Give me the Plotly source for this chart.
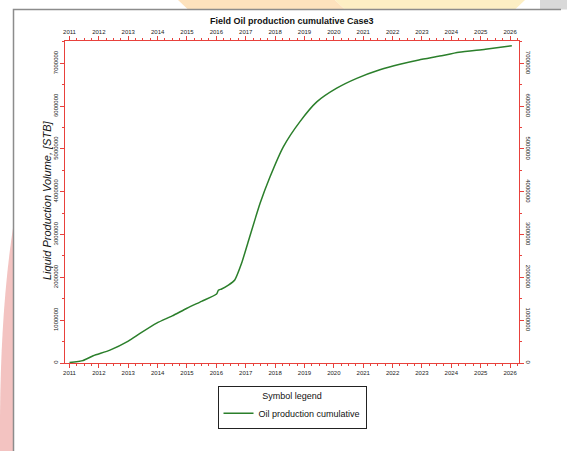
import plotly.graph_objects as go

# ---------------- data ----------------
dates = ["2011-01-01", "2011-06-20", "2011-10-23", "2012-05-18", "2013-01-01",
         "2013-05-27", "2013-12-20", "2014-07-01", "2015-01-01", "2015-07-01",
         "2016-01-04", "2016-01-26", "2016-03-07", "2016-05-30", "2016-08-17",
         "2016-11-10", "2017-02-06", "2017-06-28", "2017-10-30", "2018-04-13",
         "2018-11-06", "2019-06-03", "2020-02-06", "2020-10-12", "2021-07-27",
         "2022-04-02", "2022-11-24", "2023-08-08", "2024-04-05", "2025-02-28",
         "2026-01-23"]
oil_cumulative = [10000, 60000, 170000, 300000, 510000,
                  690000, 930000, 1100000, 1280000, 1440000,
                  1610000, 1700000, 1730000, 1820000, 1940000,
                  2330000, 2870000, 3730000, 4350000, 5050000,
                  5640000, 6100000, 6420000, 6650000, 6850000,
                  6980000, 7080000, 7170000, 7260000, 7330000,
                  7410000]
y_tick_values = [0, 1000000, 2000000, 3000000, 4000000, 5000000, 6000000, 7000000]
x_range = ["2010-11-06", "2026-04-22"]
y_range = [0, 7523000]

# ---------------- layout helpers ----------------
W, H = 567, 451
ML, MR, MT, MB = 65, 48, 41, 88
PW, PH = W - ML - MR, H - MT - MB


def fx(p):
    return (p - ML) / PW


def fy(p):
    return (H - MB - p) / PH


RED = "#e8413c"
GREEN = "#2b7f2b"
FONT = "Liberation Sans, Arial, sans-serif"
tickfont = dict(family=FONT, size=6, color="#222222")

fig = go.Figure()
fig.add_trace(go.Scatter(
    x=dates, y=oil_cumulative, mode="lines", name="Oil production cumulative",
    line=dict(color=GREEN, width=1.5, shape="spline", smoothing=0.6),
    xaxis="x", yaxis="y", showlegend=True))
# companion (invisible) trace to activate the mirrored top/right axes
fig.add_trace(go.Scatter(
    x=dates, y=oil_cumulative, mode="lines", line=dict(color="rgba(0,0,0,0)", width=0),
    xaxis="x2", yaxis="y2", showlegend=False, hoverinfo="skip"))

xcommon = dict(type="date", range=x_range, dtick="M12", tick0="2011-01-01",
               tickformat="%Y", ticks="outside", ticklen=4, tickcolor=RED,
               showline=True, linecolor=RED, linewidth=1, showgrid=False,
               zeroline=False, tickfont=tickfont,
               minor=dict(dtick="M3", ticks="outside", ticklen=2, tickcolor=RED))
ycommon = dict(range=y_range, tickvals=y_tick_values, tickformat="d",
               ticks="outside", ticklen=4, tickcolor=RED, showline=True,
               linecolor=RED, linewidth=1, showgrid=False, zeroline=False,
               tickfont=tickfont,
               minor=dict(dtick=500000, ticks="outside", ticklen=2, tickcolor=RED))

shapes = [
    # top decorative band
    dict(type="path", xref="paper", yref="paper", layer="below",
         path=f"M {fx(178)},{fy(0)} L {fx(335)},{fy(0)} L {fx(345)},{fy(9.5)} L {fx(188)},{fy(9.5)} Z",
         fillcolor="#fde2bd", line=dict(width=0)),
    dict(type="path", xref="paper", yref="paper", layer="below",
         path=f"M {fx(335)},{fy(0)} L {fx(525)},{fy(0)} L {fx(515)},{fy(9.5)} L {fx(345)},{fy(9.5)} Z",
         fillcolor="#fdefc4", line=dict(width=0)),
    dict(type="rect", xref="paper", yref="paper", layer="below",
         x0=fx(540), x1=fx(567), y0=fy(0), y1=fy(9.5),
         fillcolor="#d9d9d9", line=dict(width=0)),
    # left pink arc
    dict(type="path", xref="paper", yref="paper", layer="below",
         path=f"M {fx(13)},{fy(228)} Q {fx(-1)},{fy(320)} {fx(0)},{fy(451)} L {fx(13)},{fy(451)} Z",
         fillcolor="#f3c3c1", line=dict(width=0)),
    # window frame
    dict(type="path", xref="paper", yref="paper", layer="below",
         path=f"M {fx(13.5)},{fy(452)} L {fx(13.5)},{fy(9.5)} L {fx(561)},{fy(9.5)}",
         line=dict(color="#8c8c8c", width=1.5)),
]

annotations = [
    dict(text="<i>Liquid Production Volume, [STB]</i>", xref="paper", yref="paper",
         x=fx(47), y=fy(200), textangle=-90, showarrow=False,
         font=dict(family=FONT, size=11, color="#111111"),
         xanchor="center", yanchor="middle"),
    dict(text="<b>Field Oil production cumulative Case3</b>", xref="paper", yref="paper",
         x=fx(292), y=fy(21), showarrow=False,
         font=dict(family=FONT, size=9, color="#111111"),
         xanchor="center", yanchor="middle"),
]

fig.update_layout(
    width=W, height=H,
    margin=dict(l=ML, r=MR, t=MT, b=MB, autoexpand=False),
    paper_bgcolor="white", plot_bgcolor="white",
    font=dict(family=FONT, color="#111111"),
    xaxis=dict(**xcommon, side="bottom", anchor="y"),
    xaxis2=dict(**xcommon, side="top", overlaying="x", matches="x", anchor="y"),
    yaxis=dict(**ycommon, side="left", tickangle=-90, anchor="x"),
    yaxis2=dict(**ycommon, side="right", tickangle=90, overlaying="y", matches="y", anchor="x"),
    showlegend=True,
    legend=dict(x=fx(292), y=fy(386), xanchor="center", yanchor="top",
                bgcolor="white", bordercolor="#222222", borderwidth=1,
                font=dict(family=FONT, size=9, color="#111111"),
                title=dict(text="Symbol legend", side="top center",
                           font=dict(family=FONT, size=9, color="#111111")),
                itemwidth=30, tracegroupgap=0),
    shapes=shapes,
    annotations=annotations,
)

fig.write_html("out.html")
